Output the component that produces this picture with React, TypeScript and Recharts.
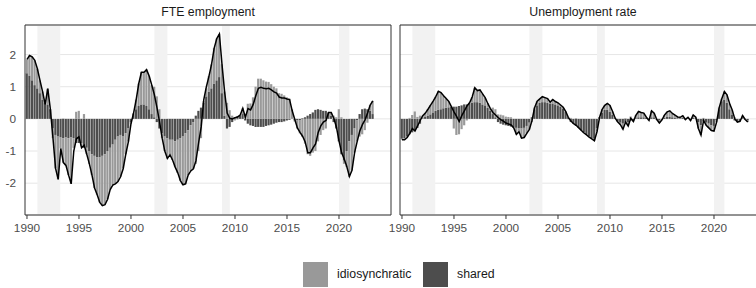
import React from "react"
import {
  ComposedChart,
  Bar,
  Line,
  XAxis,
  YAxis,
  CartesianGrid,
  ReferenceArea,
} from "recharts"

// quarterly values, 1990Q1 .. 2023Q2
const fteShared = [
  1.42, 1.35, 1.2, 1.05, 0.95, 0.8, 0.6, 0.5, 0.45, 0.3,
  -0.3, -0.5, -0.55, -0.58, -0.6, -0.58, -0.6, -0.58, -0.6, -0.75,
  -0.75, -0.75, -0.9, -0.9, -1.0, -1.1, -1.15, -1.2, -1.2, -1.15,
  -1.1, -1.0, -0.9, -0.8, -0.65, -0.55, -0.5, -0.55, -0.45, -0.3,
  -0.1, 0.15, 0.3, 0.4, 0.45, 0.45, 0.4, 0.3, 0.15, 0.05,
  -0.1, -0.3, -0.45, -0.55, -0.6, -0.65, -0.65, -0.7, -0.65, -0.6,
  -0.55, -0.45, -0.35, -0.2, -0.1, 0.1, 0.25, 0.35, 0.5, 0.7,
  0.85, 0.95, 1.1, 1.2, 1.3, 0.8, 0.1, -0.3, -0.25, -0.1,
  0.05, 0.08, 0.1, 0.15, -0.05, -0.15, -0.2, -0.22, -0.25, -0.25,
  -0.25, -0.25, -0.22, -0.2, -0.18, -0.15, -0.12, -0.1, -0.1, -0.08,
  -0.05, -0.03, 0.0, -0.03, -0.05, -0.05, 0.02, 0.05, 0.1, 0.15,
  0.2, 0.28, 0.3, 0.28, 0.25, 0.25, 0.2, 0.1, -0.1, -0.3,
  -0.7, -1.1, -1.3, -1.0, -0.7, -0.5, -0.3, -0.05, 0.15, 0.3,
  0.32, 0.3, 0.25, 0.15,
]

const fteIdio = [
  0.43, 0.62, 0.73, 0.77, 0.61, 0.4, 0.25, 0.0, 0.49, 0.0,
  -0.3, -1.04, -1.33, -0.34, -0.76, -0.87, -1.15, -1.44, -0.3, 0.22,
  0.25, -0.1, 0.15, -0.2, -0.4, -0.65, -1.0, -1.16, -1.4, -1.55,
  -1.57, -1.5, -1.3, -1.26, -1.37, -1.4, -1.3, -1.0, -0.65, -0.41,
  -0.05, 0.03, 0.3, 0.7, 1.0, 1.0, 1.13, 1.03, 0.9, 0.95,
  0.7, 0.3, -0.15, -0.45, -0.63, -0.47, -0.63, -0.8, -1.03, -1.32,
  -1.5, -1.57, -1.4, -1.42, -1.45, -1.4, -1.0, -0.6, 0.05, 0.25,
  0.48, 0.75, 1.1, 1.3, 1.34, 0.9, 0.75, 0.5, 0.27, 0.1,
  -0.05, -0.02, 0.02, 0.18, 0.1, 0.47, 0.48, 0.67, 1.0, 1.25,
  1.25, 1.2, 1.16, 1.15, 1.08, 1.0, 0.95, 0.8, 0.78, 0.73,
  0.67, 0.63, 0.3, -0.05, -0.25, -0.4, -0.56, -0.77, -1.1, -1.15,
  -1.05, -1.0, -0.7, -0.5, -0.35, -0.3, 0.0, 0.1, 0.1, 0.05,
  0.3, 0.05, -0.1, -0.5, -1.1, -1.1, -0.75, -0.65, -0.55, -0.48,
  -0.35, -0.12, 0.18, 0.41,
]

const fteTotal = [
  1.85, 1.97, 1.93, 1.82, 1.56, 1.2, 0.85, 0.45, 0.94, 0.3,
  -0.6, -1.54, -1.88, -0.92, -1.36, -1.45, -1.75, -2.02, -1.0, -0.62,
  -0.56, -0.9, -0.82, -1.1, -1.4, -1.75, -2.15, -2.36, -2.6, -2.7,
  -2.67, -2.5, -2.2, -2.06, -2.02, -1.95, -1.8, -1.55, -1.1, -0.71,
  -0.15, 0.18, 0.6, 1.1, 1.45, 1.45, 1.53, 1.33, 1.05, 0.75,
  0.35, -0.1, -0.6, -1.0, -1.23, -1.12, -1.28, -1.5, -1.68, -1.92,
  -2.05, -2.02, -1.75, -1.62, -1.55, -1.3, -0.75, -0.25, 0.6, 1.0,
  1.33, 1.7, 2.2, 2.5, 2.64, 1.7, 0.85, 0.18, 0.02, 0.0,
  0.04, 0.06, 0.12, 0.33, 0.05, 0.32, 0.28, 0.45, 0.72, 0.95,
  0.98, 0.95, 0.94, 0.95, 0.9, 0.84, 0.8, 0.68, 0.65, 0.65,
  0.62, 0.6, 0.25, -0.02, -0.28, -0.42, -0.54, -0.72, -1.05, -1.05,
  -0.9, -0.78, -0.42, -0.22, -0.1, -0.05, 0.2, 0.2, 0.02, -0.25,
  -0.68, -1.05, -1.25, -1.48, -1.79, -1.6, -1.05, -0.7, -0.38, -0.18,
  -0.03, 0.18, 0.43, 0.56,
]

const urShared = [
  -0.62, -0.6, -0.55, -0.48, -0.42, -0.36, -0.28, -0.15, 0.02, 0.06,
  0.1, 0.14, 0.2, 0.25, 0.28, 0.3, 0.33, 0.35, 0.36, 0.38,
  0.38, 0.38, 0.4, 0.42, 0.45, 0.45, 0.48, 0.5, 0.52, 0.52,
  0.5, 0.45, 0.42, 0.35, 0.25, 0.15, 0.05, -0.1, -0.15, -0.18,
  -0.2, -0.22, -0.24, -0.26, -0.28, -0.3, -0.3, -0.28, -0.22, -0.12,
  0.05, 0.3, 0.42, 0.5, 0.52, 0.52, 0.5, 0.48, 0.48, 0.45,
  0.42, 0.38, 0.32, 0.22, 0.05, -0.1, -0.15, -0.22, -0.28, -0.35,
  -0.42, -0.48, -0.55, -0.6, -0.62, -0.3, 0.05, 0.2, 0.28, 0.28,
  0.22, 0.12, 0.02, -0.08, -0.12, -0.15, -0.12, -0.1, -0.05, -0.05,
  0.02, 0.05, 0.05, 0.05, 0.03, -0.02, 0.05, 0.05, -0.02, -0.05,
  -0.02, 0.03, 0.06, 0.06, 0.05, 0.04, 0.02, 0.02, 0.03, -0.02,
  0.0, -0.03, 0.03, 0.02, -0.1, -0.2, -0.08, -0.12, -0.15, -0.2,
  -0.22, -0.05, 0.3, 0.55, 0.6, 0.5, 0.3, 0.12, -0.05, -0.08,
  -0.07, 0.02, -0.02, -0.05,
]

const urIdio = [
  -0.03, -0.05, -0.03, 0.03, 0.12, 0.23, 0.06, 0.1, 0.08, 0.12,
  0.2, 0.29, 0.35, 0.44, 0.58, 0.52, 0.39, 0.28, 0.18, 0.0,
  -0.3, -0.5, -0.48, -0.32, -0.2, -0.05, 0.02, 0.18, 0.45, 0.36,
  0.4, 0.33, 0.24, 0.13, 0.07, 0.2, 0.25, 0.14, 0.13, 0.11,
  0.07, 0.06, 0.05, -0.02, -0.2, -0.1, -0.3, -0.3, -0.23, -0.21,
  -0.1, 0.05, 0.13, 0.12, 0.17, 0.14, 0.13, 0.04, 0.12, 0.09,
  0.08, 0.05, 0.04, 0.01, -0.01, 0.03, 0.0, 0.02, 0.0, -0.01,
  -0.02, -0.02, -0.02, -0.02, -0.06, -0.1, 0.0, 0.1, 0.14, 0.2,
  0.2, 0.11, 0.0, -0.02, -0.06, -0.17, 0.02, -0.12, 0.07, -0.03,
  0.1, 0.18, 0.15, 0.13, 0.02, -0.03, 0.2, 0.13, 0.0, -0.08,
  -0.01, 0.09, 0.16, 0.19, 0.12, 0.08, 0.04, 0.03, 0.07, 0.0,
  0.05, -0.02, 0.09, 0.03, -0.2, -0.3, 0.03, -0.08, -0.13, -0.16,
  -0.16, -0.05, 0.05, 0.08, 0.25, 0.25, 0.18, 0.16, 0.05, -0.02,
  -0.01, 0.08, 0.0, -0.05,
]

const urTotal = [
  -0.65, -0.65, -0.58, -0.45, -0.3, -0.38, -0.22, -0.05, 0.1, 0.18,
  0.3, 0.43, 0.55, 0.69, 0.86, 0.82, 0.72, 0.63, 0.54, 0.38,
  0.22, 0.08, -0.08, 0.1, 0.25, 0.4, 0.5, 0.68, 0.97, 0.88,
  0.9, 0.78, 0.66, 0.48, 0.32, 0.2, 0.12, 0.04, -0.02, -0.07,
  -0.13, -0.16, -0.19, -0.28, -0.48, -0.4, -0.6, -0.58, -0.45, -0.33,
  -0.05, 0.35, 0.55, 0.62, 0.69, 0.66, 0.63, 0.52, 0.6, 0.54,
  0.5, 0.43, 0.36, 0.23, 0.04, -0.07, -0.15, -0.2, -0.28, -0.36,
  -0.44, -0.5, -0.57, -0.62, -0.68, -0.4, 0.05, 0.3, 0.42, 0.48,
  0.42, 0.23, 0.02, -0.1, -0.18, -0.32, -0.1, -0.22, 0.02, -0.08,
  0.12, 0.23, 0.2, 0.18, 0.05, -0.05, 0.25, 0.18, -0.02, -0.13,
  -0.03, 0.12, 0.22, 0.25, 0.17, 0.12, 0.06, 0.05, 0.1, -0.02,
  0.05, -0.05, 0.12, 0.05, -0.3, -0.5, -0.05, -0.2, -0.28, -0.36,
  -0.38, -0.1, 0.35, 0.63, 0.85, 0.75, 0.48, 0.28, 0.0, -0.1,
  -0.08, 0.1, -0.02, -0.1,
]

const yearTicks = [1990, 1995, 2000, 2005, 2010, 2015, 2020]
const valueTicks = [-2, -1, 0, 1, 2]
const recessions = [
  [1991.0, 1993.2],
  [2002.25, 2003.5],
  [2008.75, 2009.5],
  [2020.0, 2021.0],
]

const quarters = fteTotal.map((_, i) => 1990 + i / 4)

const fteData = quarters.map((t, i) => ({
  t,
  shared: fteShared[i],
  idio: fteIdio[i],
  total: fteTotal[i],
}))

const urData = quarters.map((t, i) => ({
  t,
  shared: urShared[i],
  idio: urIdio[i],
  total: urTotal[i],
}))

const FONT = '"Liberation Sans", Arial, Helvetica, sans-serif'
const X_DOMAIN = [1989.81, 2025]
const Y_DOMAIN = [-2.99, 2.92]
const IDIO = "#999999"
const SHARED = "#4d4d4d"

function Panel({ title, data, left, showY }: { title: string; data: any[]; left: number; showY: boolean }) {
  return (
    <div style={{ position: "absolute", left, top: 0, width: 400, height: 245 }}>
      <div
        style={{
          position: "absolute",
          left: 25,
          top: 5,
          width: 366,
          textAlign: "center",
          fontSize: 12.3,
          lineHeight: "14px",
          color: "#1a1a1a",
        }}
      >
        {title}
      </div>
      <ComposedChart
        width={400}
        height={245}
        data={data}
        stackOffset="sign"
        margin={{ top: 25, right: 9, bottom: 0, left: showY ? 0 : 25 }}
      >
        {recessions.map(([a, b]) => (
          <ReferenceArea key={a} x1={a} x2={b} y1={Y_DOMAIN[0]} y2={Y_DOMAIN[1]} fill="#f2f2f2" fillOpacity={1} stroke="none" />
        ))}
        <CartesianGrid vertical={false} stroke="#e6e6e6" />
        <XAxis
          type="number"
          dataKey="t"
          domain={X_DOMAIN}
          ticks={yearTicks}
          allowDataOverflow
          interval={0}
          axisLine={false}
          tickSize={4}
          tickMargin={5}
          height={30}
          tickLine={{ stroke: "#333333" }}
          tick={{ fontSize: 11.8, fill: "#4d4d4d", fontFamily: FONT }}
        />
        <YAxis
          type="number"
          domain={Y_DOMAIN}
          ticks={valueTicks}
          allowDataOverflow
          hide={!showY}
          width={25}
          axisLine={false}
          tickLine={false}
          tickSize={6}
          tickMargin={3}
          tick={{ fontSize: 11.8, fill: "#4d4d4d", fontFamily: FONT }}
        />
        <Bar dataKey="shared" stackId="a" fill={SHARED} barSize={2.2} isAnimationActive={false} />
        <Bar dataKey="idio" stackId="a" fill={IDIO} barSize={2.2} isAnimationActive={false} />
        <Line
          dataKey="total"
          type="linear"
          stroke="#000000"
          strokeWidth={1.5}
          dot={false}
          activeDot={false}
          isAnimationActive={false}
        />
        <ReferenceArea
          x1={X_DOMAIN[0]}
          x2={X_DOMAIN[1]}
          y1={Y_DOMAIN[0]}
          y2={Y_DOMAIN[1]}
          fill="none"
          stroke="#333333"
          strokeWidth={1}
        />
      </ComposedChart>
    </div>
  )
}

function LegendItem({ color, label, left }: { color: string; label: string; left: number }) {
  return (
    <div style={{ position: "absolute", left, top: 262, height: 25, display: "flex", alignItems: "center" }}>
      <div style={{ width: 25, height: 25, background: color }} />
      <span style={{ marginLeft: 9, fontSize: 12.3, color: "#1a1a1a", lineHeight: "25px" }}>{label}</span>
    </div>
  )
}

export default function App() {
  return (
    <div
      style={{
        position: "absolute",
        left: 0,
        top: 0,
        width: 756,
        height: 288,
        overflow: "hidden",
        background: "#ffffff",
        fontFamily: FONT,
      }}
    >
      <Panel title="FTE employment" data={fteData} left={0} showY={true} />
      <Panel title="Unemployment rate" data={urData} left={375} showY={false} />
      <LegendItem color={IDIO} label="idiosynchratic" left={303} />
      <LegendItem color={SHARED} label="shared" left={423} />
    </div>
  )
}
